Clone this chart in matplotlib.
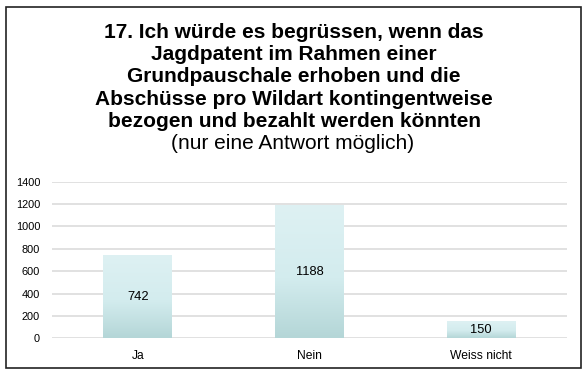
import numpy as np
import matplotlib
matplotlib.use('Agg')
import matplotlib.pyplot as plt
from matplotlib.colors import LinearSegmentedColormap
from matplotlib.patches import Rectangle

plt.rcParams['font.family'] = ['Liberation Sans', 'DejaVu Sans']

# data
categories = ['Ja', 'Nein', 'Weiss nicht']
counts = [742, 1188, 150]
y_ticks = [0, 200, 400, 600, 800, 1000, 1200, 1400]

title_lines = ['17. Ich würde es begrüssen, wenn das',
               'Jagdpatent im Rahmen einer',
               'Grundpauschale erhoben und die',
               'Abschüsse pro Wildart kontingentweise',
               'bezogen und bezahlt werden könnten']
subtitle = '(nur eine Antwort möglich)'

W, H = 584, 371
BAR_W = 0.4
bar_cmap = LinearSegmentedColormap.from_list(
    'bar', [(0.0, '#b4d6d7'), (0.45, '#d3ecee'), (1.0, '#def1f3')])

fig = plt.figure(figsize=(W / 100, H / 100), dpi=100)
ax = fig.add_axes([52 / W, 1 - 338.3 / H, 515 / W, 156.6 / H])

# gradient bars
grad = np.linspace(0, 1, 256).reshape(-1, 1)
for i, v in enumerate(counts):
    ax.imshow(grad, cmap=bar_cmap, origin='lower', aspect='auto',
              extent=(i - BAR_W / 2, i + BAR_W / 2, 0, v), zorder=2)
    ax.text(i, v / 2, str(v), ha='center', va='center', fontsize=9.3,
            color='black', zorder=3)
ax.set_xlim(-0.5, len(categories) - 0.5)
ax.set_ylim(0, 1400)

ax.set_yticks(y_ticks)
ax.set_xticks(range(len(categories)))
ax.set_xticklabels(categories, fontsize=8.7)
ax.tick_params(axis='both', length=0)
ax.tick_params(axis='y', pad=8.5, labelsize=7.9)
ax.tick_params(axis='x', pad=8.5)
ax.yaxis.grid(True, color='#d9d9d9', linewidth=1.1, zorder=0)
ax.set_axisbelow(True)
for s in ax.spines.values():
    s.set_visible(False)

# title, one line at a time (baseline positions in px from top)
for k, line in enumerate(title_lines):
    fig.text(294 / W, 1 - (38.3 + 22.1 * k) / H, line, ha='center',
             va='baseline', fontsize=15, fontweight='bold')
fig.text(292.5 / W, 1 - 149.3 / H, subtitle, ha='center', va='baseline',
         fontsize=15)

# outer frame
fig.patches.append(Rectangle((6 / W, 1 - 368 / H), 575 / W, 361 / H,
                             transform=fig.transFigure, fill=False,
                             edgecolor='#222222', linewidth=1.2))

fig.savefig('out.png', dpi=100)
